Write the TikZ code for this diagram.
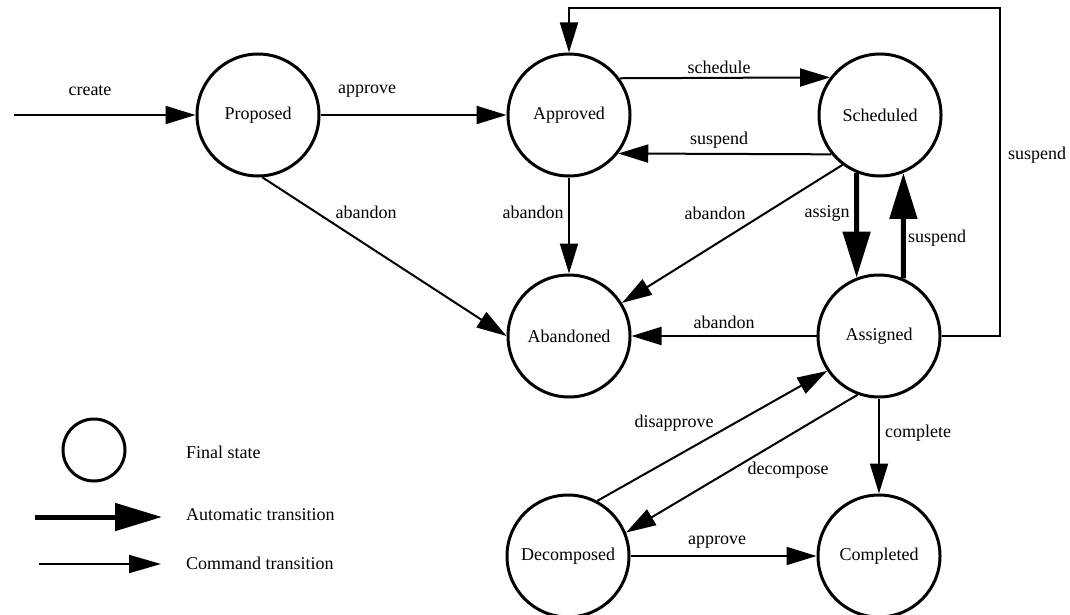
\documentclass[tikz,border=0pt]{standalone}
\usepackage{fontspec}
\setmainfont{Liberation Serif}
\usetikzlibrary{arrows.meta}
\tikzset{
  state/.style={circle, draw, line width=3pt, minimum size=122pt, inner sep=0pt, font=\fontsize{18}{20}\selectfont},
  lbl/.style={font=\fontsize{18}{20}\selectfont, inner sep=0pt},
  cmd/.style={line width=2pt, -{Triangle[length=30pt,width=18pt]}},
  auto/.style={line width=5pt, -{Triangle[length=46pt,width=27pt]}},
  plain/.style={line width=2pt}
}
\begin{document}
\begin{tikzpicture}[x=1pt,y=-1pt]
\useasboundingbox (0,0) rectangle (1070,615);

% states
\node[state] (pro) at (258,115) {Proposed};
\node[state] (app) at (569,115) {Approved};
\node[state] (sch) at (880,115) {Scheduled};
\node[state] (aba) at (569,336) {Abandoned};
\node[state] (asg) at (879,336) {Assigned};
\node[state] (dec) at (568,556) {Decomposed};
\node[state] (com) at (879,556) {Completed};

% entry
\coordinate (start) at (14,115);
\draw[cmd] (start) -- (pro.west);
\node[lbl] (lcreate) at (90,91) {create};

% command transitions
\draw[cmd] (pro.east) -- (app.west);
\node[lbl] (lapprove) at (367,91) {approve};

\draw[cmd] (app.36.2) -- (sch.143.8);
\node[lbl] (lschedule) at (719,67) {schedule};

\draw[cmd] (sch.-141.5) -- (app.-38.5);
\node[lbl] (lsuspend) at (719,140) {suspend};

\draw[cmd] (pro.-86) -- (aba.west);
\node[lbl] (lab1) at (366,212) {abandon};

\draw[cmd] (app.south) -- (aba.north);
\node[lbl] (lab2) at (533,212) {abandon};

\draw[cmd] (sch.-127) -- (aba.32);
\node[lbl] (lab3) at (715,213) {abandon};

\draw[cmd] (asg.west) -- (aba.east);
\node[lbl] (lab4) at (724,322) {abandon};

\coordinate (loopr) at (1000,8);
\draw[cmd] (asg.east) -| (loopr) -- (app.north |- loopr) -- (app.north);
\node[lbl] (lsusp2) at (1037,155) {suspend};

\draw[cmd] (dec.62) -- (asg.-146.8);
\node[lbl] (ldis) at (674,423) {disapprove};

\draw[cmd] (asg.-110) -- (dec.22);
\node[lbl] (ldec) at (788,470) {decompose};

\draw[cmd] (asg.south) -- (com.north);
\node[lbl] (lcomp) at (918,433) {complete};

\draw[cmd] (dec.east) -- (com.west);
\node[lbl] (lapp2) at (717,542) {approve};

% automatic transitions
\draw[auto] (sch.-112) -- (asg.111);
\node[lbl] (lassign) at (827,213) {assign};

\draw[auto] (asg.67) -- (sch.-68);
\node[lbl] (lsusp3) at (937,238) {suspend};

% legend
\node[circle, draw, line width=3pt, minimum size=62pt, inner sep=0pt] (legstate) at (94,450) {};
\node[lbl, anchor=west] (legt1) at (186,452) {Final state};

\coordinate (la1) at (35,517);
\coordinate (la2) at (162,517);
\draw[line width=5pt, -{Triangle[length=47pt,width=27pt]}] (la1) -- (la2);
\node[lbl, anchor=west] (legt2) at (186,515) {Automatic transition};

\coordinate (lc1) at (39,564);
\coordinate (lc2) at (161,564);
\draw[line width=2pt, -{Triangle[length=32pt,width=18pt]}] (lc1) -- (lc2);
\node[lbl, anchor=west] (legt3) at (186,563) {Command transition};
\end{tikzpicture}
\end{document}
